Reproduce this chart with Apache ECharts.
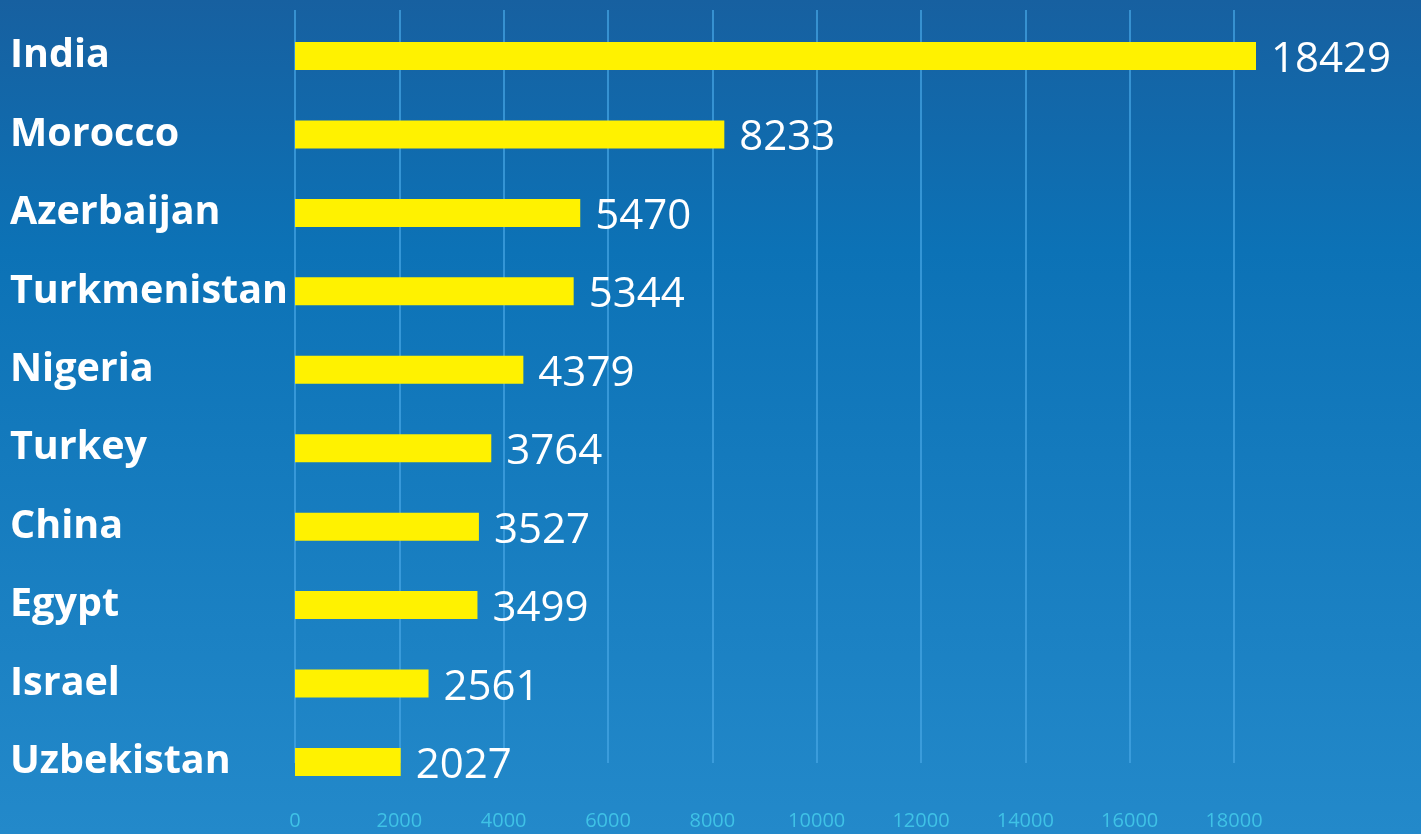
<!DOCTYPE html>
<html>
<head>
<meta charset="utf-8">
<script src="https://cdn.jsdelivr.net/npm/echarts@6/dist/echarts.min.js"></script>
<style>
html,body{margin:0;padding:0;}
#main{width:1421px;height:834px;}
</style>
</head>
<body>
<div id="main"></div>
<script>
var countries = ['India','Morocco','Azerbaijan','Turkmenistan','Nigeria','Turkey','China','Egypt','Israel','Uzbekistan'];
var counts = [18429,8233,5470,5344,4379,3764,3527,3499,2561,2027];
var tickStep = 2000;
var tickMax = 18000;

var chart = echarts.init(document.getElementById('main'));
var option = {
    backgroundColor: {
        type: 'linear', x: 0, y: 0, x2: 0, y2: 1,
        colorStops: [
            {offset: 0, color: '#1760a0'},
            {offset: 0.3, color: '#0c72b6'},
            {offset: 1, color: '#2389ca'}
        ]
    },
    animation: false,
    grid: [
        {left: 295, right: 165, top: 16.8, bottom: 32.8},
        {left: 295, right: 187, top: 10, bottom: 71}
    ],
    xAxis: [
        {
            gridIndex: 0,
            type: 'value',
            min: 0,
            max: 'dataMax',
            show: false
        },
        {
            gridIndex: 1,
            type: 'value',
            min: 0,
            max: tickMax,
            interval: tickStep,
            axisLine: {show: false},
            axisTick: {show: false},
            axisLabel: {
                color: '#3fc2e6',
                fontSize: 20,
                fontFamily: 'Open Sans',
                margin: 48,
                formatter: function (v) { return String(v); }
            },
            splitLine: {
                show: true,
                lineStyle: {color: 'rgba(70,165,228,0.7)', width: 2}
            }
        }
    ],
    yAxis: [
        {
            gridIndex: 0,
            type: 'category',
            data: countries,
            inverse: true,
            axisLine: {show: false},
            axisTick: {show: false},
            axisLabel: {
                color: '#ffffff',
                fontSize: 39.5,
                fontWeight: 'bold',
                fontFamily: 'Open Sans',
                align: 'left',
                padding: [9, 0, 0, 0],
                margin: 285
            }
        },
        {
            gridIndex: 1,
            type: 'value',
            show: false
        }
    ],
    series: [{
        type: 'bar',
        xAxisIndex: 0,
        yAxisIndex: 0,
        data: counts,
        barWidth: 28,
        itemStyle: {color: '#fff200'},
        label: {
            show: true,
            position: 'right',
            distance: 15,
            offset: [0, 4],
            color: '#ffffff',
            fontSize: 42,
            fontFamily: 'Open Sans'
        }
    }]
};
chart.setOption(option);
</script>
</body>
</html>
